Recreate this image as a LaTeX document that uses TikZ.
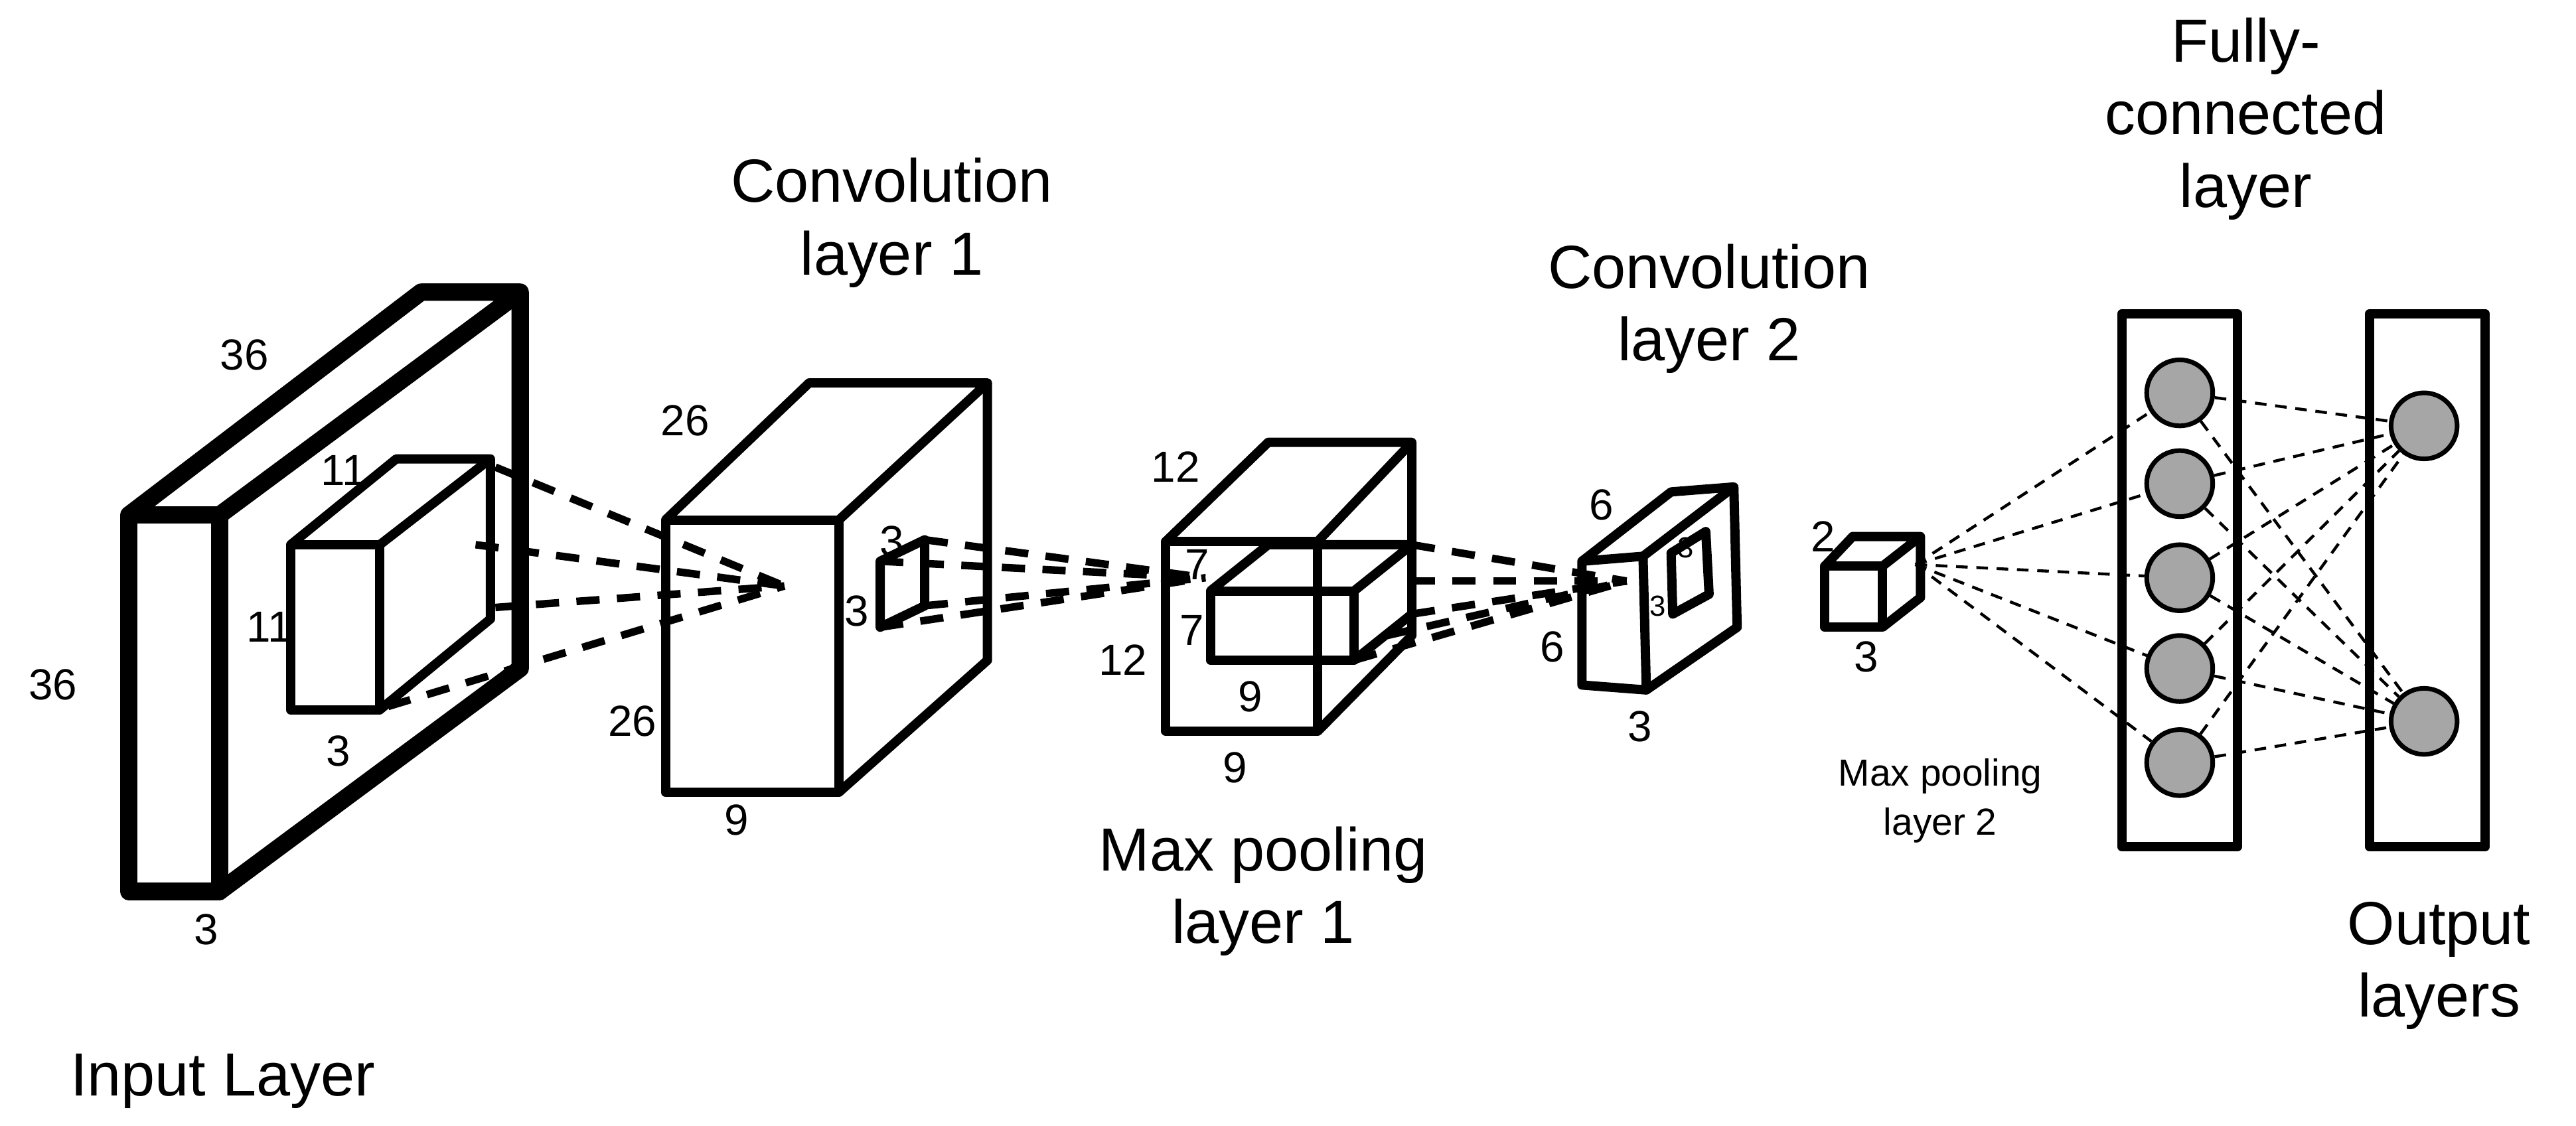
\documentclass[tikz,border=0pt]{standalone}
\usepackage{fontspec}
\setmainfont{Liberation Sans}
\begin{document}
\begin{tikzpicture}[x=0.1mm,y=-0.1mm,line join=round,
  box/.style={line width=1.6pt},
  heavy/.style={line width=3pt},
  dl/.style={dashed,line width=1.3pt,dash pattern=on 4pt off 3pt},
  fl/.style={dashed,line width=0.5pt,dash pattern=on 2pt off 1.5pt},
  title/.style={font=\fontsize{10.5}{12.5}\selectfont,align=center},
  num/.style={font=\fontsize{7.5}{9}\selectfont},
  neu/.style={circle,draw,fill=gray!70,minimum size=4mm,inner sep=0pt,line width=0.8pt}]
\useasboundingbox (0,0) rectangle (1560,682);
% Input layer
\draw[heavy] (78,312) rectangle (133,540);
\draw[heavy] (78,312) -- (255,177) -- (315,177) -- (133,312);
\draw[heavy] (315,177) -- (315,405) -- (133,540);
\draw[box] (176,330) rectangle (230,430);
\draw[box] (176,330) -- (240,278) -- (297,278) -- (230,330);
\draw[box] (297,278) -- (297,375) -- (230,430);
% Conv 1
\draw[box] (403,315) rectangle (508,480);
\draw[box] (403,315) -- (490,232) -- (598,232) -- (508,315);
\draw[box] (598,232) -- (598,400) -- (508,480);
\draw[box] (533,340) -- (560,327) -- (560,367) -- (533,380) -- cycle;
\coordinate (c1) at (475,355);
\foreach \p in {(300,283),(288,330),(300,368),(235,428)} \draw[dl] \p -- (c1);
% Max pool 1
\draw[box] (706,328) rectangle (798,443);
\draw[box] (706,328) -- (768,268) -- (855,268) -- (798,328);
\draw[box] (855,268) -- (855,385) -- (798,443);
\draw[box] (733,358) rectangle (820,400);
\draw[box] (733,358) -- (768,330) -- (855,330) -- (820,358);
\draw[box] (855,372) -- (820,400);
\coordinate (c2) at (730,350);
\foreach \p in {(560,327),(560,367),(533,340),(533,380)} \draw[dl] \p -- (c2);
% Conv 2
\draw[box] (958,340) -- (995,337) -- (997,418) -- (958,415) -- cycle;
\draw[box] (958,340) -- (1012,298) -- (1050,295) -- (995,337);
\draw[box] (1050,295) -- (1052,380) -- (997,418);
\draw[box] (1012,335) -- (1033,322) -- (1035,360) -- (1013,372) -- cycle;
\coordinate (c3) at (985,352);
\foreach \p in {(855,330),(855,372),(820,400),(855,352),(840,385)} \draw[dl] \p -- (c3);
% Max pool 2
\draw[box] (1105,343) rectangle (1140,380);
\draw[box] (1105,343) -- (1122,325) -- (1163,325) -- (1140,343);
\draw[box] (1163,325) -- (1163,362) -- (1140,380);
\coordinate (c4) at (1160,342);
% FC
\draw[box] (1285,190) rectangle (1355,513);
\draw[box] (1435,190) rectangle (1505,513);
\foreach \i/\y in {1/238,2/293,3/350,4/405,5/462} \node[neu] (f\i) at (1320,\y) {};
\node[neu] (o1) at (1468,258) {};
\node[neu] (o2) at (1468,437) {};
\foreach \i in {1,...,5} {\draw[fl] (c4) -- (f\i); \draw[fl] (f\i) -- (o1); \draw[fl] (f\i) -- (o2);}
% titles
\node[title] (t1) at (540,135) {Convolution\\layer 1};
\node[title] (t2) at (1035,187) {Convolution\\layer 2};
\node[title] (t3) at (765,540) {Max pooling\\layer 1};
\node[title] (t4) at (1360,72) {Fully-\\connected\\layer};
\node[title] (t5) at (1477,585) {Output\\layers};
\node[title] (t6) at (135,655) {Input Layer};
\node[align=center,font=\fontsize{6.5}{8.5}\selectfont] (t7) at (1175,485) {Max pooling\\layer 2};
% numbers
\node[num] (n1) at (148,215) {36};
\node[num] (n2) at (208,285) {11};
\node[num] (n3) at (163,380) {11};
\node[num] (n4) at (32,415) {36};
\node[num] (n5) at (205,455) {3};
\node[num] (n6) at (125,563) {3};
\node[num] (n7) at (415,255) {26};
\node[num] (n8) at (383,437) {26};
\node[num] (n9) at (446,497) {9};
\node[num] (n10) at (540,328) {3};
\node[num] (n11) at (519,370) {3};
\node[num] (n12) at (712,283) {12};
\node[num] (n13) at (725,342) {7};
\node[num] (n14) at (722,382) {7};
\node[num] (n15) at (680,400) {12};
\node[num] (n16) at (757,422) {9};
\node[num] (n17) at (748,465) {9};
\node[num] (n18) at (970,306) {6};
\node[num] (n19) at (940,392) {6};
\node[num] (n20) at (993,440) {3};
\node[font=\fontsize{5}{6}\selectfont] (n21) at (1021,332) {3};
\node[font=\fontsize{5}{6}\selectfont] (n22) at (1004,367) {3};
\node[num] (n23) at (1104,325) {2};
\node[num] (n24) at (1130,398) {3};
\end{tikzpicture}
\end{document}
